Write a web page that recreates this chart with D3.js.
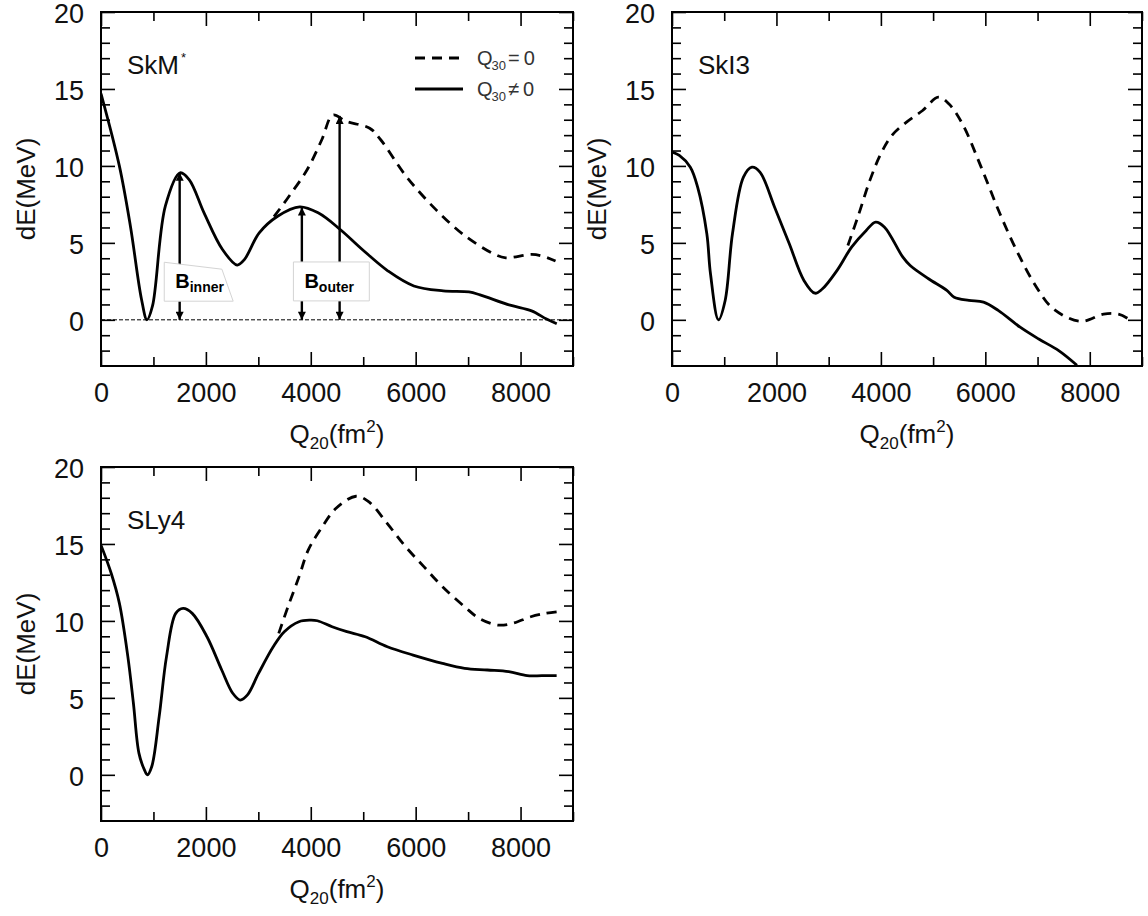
<!DOCTYPE html>
<meta charset="utf-8">
<title>dE vs Q20</title>
<style>
body { margin: 0; background: #fff; }
svg { display: block; font-family: "Liberation Sans", Arial, sans-serif; }
.tick text { font-size: 27px; fill: #111; }
</style>
<body>
<svg width="1148" height="916"></svg>
<script src="https://d3js.org/d3.v7.min.js"></script>
<script>

// axis values
var qMajor = [0, 2000, 4000, 6000, 8000];
var qMinor = [1000, 3000, 5000, 7000, 9000];
var eMajor = [0, 5, 10, 15, 20];
var eMinor = [-2, -1, 1, 2, 3, 4, 6, 7, 8, 9, 11, 12, 13, 14, 16, 17, 18, 19];

// SkM* : [Q20, dE]
var skmFree = [[0,14.7],[350,10.0],[561,6.08],[772,1.34],[877,0],[982,0.9],[1228,7.4],[1509,9.55],
  [1684,9.1],[1965,6.95],[2316,4.57],[2596,3.56],[2737,3.93],[3017,5.65],[3368,6.73],[3789,7.34],
  [4140,6.95],[4561,5.87],[4982,4.57],[5474,3.17],[5965,2.2],[6526,1.88],[7017,1.81],[7228,1.62],
  [7800,0.95],[8210,0.58],[8495,0.05],[8690,-0.25]];
var skmSym = [[3298,6.7],[3579,8.0],[3930,9.75],[4210,11.7],[4421,13.3],[4667,12.9],[5123,12.45],
  [5333,11.7],[5825,9.3],[6386,7.16],[6947,5.44],[7509,4.25],[7719,4.03],[8210,4.25],[8421,4.14],[8667,3.82]];

// SkI3
var ski3Free = [[0,10.9],[140,10.68],[351,9.92],[491,8.62],[667,5.59],[737,2.99],[890,0],[1018,1.26],
  [1158,5.59],[1368,9.27],[1530,9.92],[1684,9.6],[1965,7.32],[2246,4.94],[2526,2.56],[2737,1.73],
  [2877,2.0],[3158,3.2],[3439,4.72],[3719,5.81],[3900,6.35],[4070,6.02],[4421,4.07],[4561,3.53],
  [4912,2.67],[5263,1.91],[5404,1.47],[5684,1.26],[5965,1.15],[6246,0.61],[6667,-0.48],[7023,-1.25],
  [7405,-2.0],[7754,-2.95]];
var ski3Sym = [[3368,4.83],[3579,6.89],[3789,9.06],[4000,10.79],[4211,11.98],[4491,12.85],[4800,13.6],
  [5100,14.47],[5300,14.04],[5560,12.74],[5920,9.92],[6280,6.89],[6630,4.29],[6980,2.12],[7300,0.72],
  [7820,-0.1],[8263,0.37],[8550,0.37],[8720,0.1]];

// SLy4
var sly4Free = [[0,14.92],[196,13.08],[351,11.14],[512,7.68],[618,4.65],[723,1.41],[828,0.32],[884,0],
  [968,0.54],[1109,3.78],[1249,7.68],[1425,10.49],[1565,10.81],[1740,10.49],[2021,8.97],[2302,6.81],
  [2512,5.3],[2653,4.86],[2793,5.19],[3004,6.59],[3284,8.32],[3495,9.3],[3775,9.95],[3986,10.05],
  [4126,10.01],[4407,9.62],[4688,9.3],[5039,8.97],[5460,8.32],[5951,7.78],[6512,7.24],[6933,6.92],
  [7368,6.81],[7775,6.7],[8126,6.44],[8407,6.44],[8688,6.44]];
var sly4Sym = [[3389,9.19],[3565,10.92],[3775,12.86],[3951,14.6],[4196,16.0],[4477,17.3],[4863,18.1],
  [5109,17.73],[5460,16.32],[5811,14.81],[6161,13.51],[6512,12.22],[6933,10.92],[7214,10.16],
  [7565,9.73],[7846,9.84],[8196,10.27],[8477,10.49],[8688,10.59]];

// barrier arrows in SkM*
var arrowQ = [1500, 3830, 4550];
var arrowTop = [9.55, 7.3, 13.25];

var svg = d3.select("svg");

var defs = svg.append("defs");
defs.append("marker")
  .attr("id", "head")
  .attr("viewBox", "0 0 10 10")
  .attr("refX", 10).attr("refY", 5)
  .attr("markerUnits", "userSpaceOnUse")
  .attr("markerWidth", 11).attr("markerHeight", 8)
  .attr("orient", "auto-start-reverse")
  .append("path")
  .attr("d", "M0,0L10,5L0,10z")
  .attr("fill", "#000");

var panels = [
  {name: "SkM", sup: "*", left: 101, top: 12, w: 472, h: 354, free: skmFree, sym: skmSym, extra: true},
  {name: "SkI3", left: 672, top: 12, w: 470, h: 354, free: ski3Free, sym: ski3Sym},
  {name: "SLy4", left: 101, top: 467, w: 472, h: 354, free: sly4Free, sym: sly4Sym}
];

panels.forEach(function(p, i) {
  var x = d3.scaleLinear().domain([0, 9000]).range([p.left, p.left + p.w]);
  var y = d3.scaleLinear().domain([-3, 20]).range([p.top + p.h, p.top]);
  var g = svg.append("g");

  defs.append("clipPath").attr("id", "clip" + i)
    .append("rect")
    .attr("x", p.left).attr("y", p.top).attr("width", p.w).attr("height", p.h);

  // ticks, pointing inward on all four sides
  function ax(axis, tr, vals, size, labels) {
    var a = axis.tickValues(vals).tickSize(-size).tickPadding(17)
      .tickFormat(labels ? d3.format("d") : "");
    var sel = g.append("g").attr("transform", tr).call(a);
    sel.select(".domain").remove();
    sel.selectAll("line").attr("stroke", "#000").attr("stroke-width", 1.6);
    return sel;
  }
  ax(d3.axisBottom(x), "translate(0," + (p.top + p.h) + ")", qMajor, 14, true);
  ax(d3.axisBottom(x), "translate(0," + (p.top + p.h) + ")", qMinor, 9, false);
  ax(d3.axisTop(x), "translate(0," + p.top + ")", qMajor, 14, false);
  ax(d3.axisTop(x), "translate(0," + p.top + ")", qMinor, 9, false);
  ax(d3.axisLeft(y), "translate(" + p.left + ",0)", eMajor, 14, true)
    .selectAll("text").attr("dy", "0.38em");
  ax(d3.axisLeft(y), "translate(" + p.left + ",0)", eMinor, 9, false);
  ax(d3.axisRight(y), "translate(" + (p.left + p.w) + ",0)", eMajor, 14, false);
  ax(d3.axisRight(y), "translate(" + (p.left + p.w) + ",0)", eMinor, 9, false);

  g.append("rect")
    .attr("x", p.left).attr("y", p.top).attr("width", p.w).attr("height", p.h)
    .attr("fill", "none").attr("stroke", "#000").attr("stroke-width", 2);

  if (p.extra) {
    g.append("line")
      .attr("x1", x(0)).attr("x2", x(9000)).attr("y1", y(0)).attr("y2", y(0))
      .attr("stroke", "#000").attr("stroke-width", 1).attr("stroke-dasharray", "4,2");
  }

  var line = d3.line()
    .x(function(d) { return x(d[0]); })
    .y(function(d) { return y(d[1]); })
    .curve(d3.curveCatmullRom.alpha(0.5));

  var cg = g.append("g").attr("clip-path", "url(#clip" + i + ")");
  cg.append("path").datum(p.sym).attr("d", line)
    .attr("fill", "none").attr("stroke", "#000").attr("stroke-width", 2.8)
    .attr("stroke-dasharray", "10,7");
  cg.append("path").datum(p.free).attr("d", line)
    .attr("fill", "none").attr("stroke", "#000").attr("stroke-width", 2.8);

  // panel label
  var lab = g.append("text")
    .attr("x", p.left + 26).attr("y", p.top + 62)
    .attr("font-size", 26).attr("fill", "#111")
    .text(p.name);
  if (p.sup) lab.append("tspan").attr("dy", -12).attr("dx", 2).attr("font-size", 13).text(p.sup);

  // axis titles
  var xt = g.append("text")
    .attr("x", p.left + p.w / 2).attr("y", p.top + p.h + 77)
    .attr("text-anchor", "middle").attr("font-size", 26).attr("fill", "#111");
  xt.append("tspan").text("Q");
  xt.append("tspan").attr("font-size", 17).attr("dy", 6).text("20");
  xt.append("tspan").attr("dy", -6).text("(fm");
  xt.append("tspan").attr("font-size", 17).attr("dy", -11).text("2");
  xt.append("tspan").attr("dy", 11).text(")");

  g.append("text")
    .attr("transform", "translate(" + (p.left - 66) + "," + (p.top + p.h / 2) + ") rotate(-90)")
    .attr("text-anchor", "middle").attr("font-size", 26).attr("fill", "#111")
    .text("dE(MeV)");

  if (p.extra) {
    // legend
    var leg = [{dash: "10,7", rel: "=\u20090"}, {dash: null, rel: "\u2260\u20090"}];
    leg.forEach(function(l, k) {
      var ly = p.top + 46 + k * 31;
      g.append("line")
        .attr("x1", p.left + 314).attr("x2", p.left + 362).attr("y1", ly).attr("y2", ly)
        .attr("stroke", "#000").attr("stroke-width", 3)
        .attr("stroke-dasharray", l.dash);
      var t = g.append("text").attr("x", p.left + 376).attr("y", ly + 7)
        .attr("font-size", 20).attr("fill", "#333");
      t.append("tspan").text("Q");
      t.append("tspan").attr("font-size", 13).attr("dy", 5).attr("dx", -1).text("30");
      t.append("tspan").attr("dy", -5).attr("dx", 2).text(l.rel);
    });

    // barrier arrows
    arrowQ.forEach(function(q, k) {
      g.append("line")
        .attr("x1", x(q)).attr("x2", x(q))
        .attr("y1", y(0)).attr("y2", y(arrowTop[k]))
        .attr("stroke", "#000").attr("stroke-width", 2.4)
        .attr("marker-start", "url(#head)").attr("marker-end", "url(#head)");
    });

    // labels over arrows
    var innerBox = [[1206,3.74],[2305,3.29],[2520,1.21],[1206,1.21]];
    var outerBox = [[3669,3.76],[5116,3.76],[5116,1.23],[3669,1.23]];
    [[innerBox, "inner"], [outerBox, "outer"]].forEach(function(b) {
      g.append("polygon")
        .attr("points", b[0].map(function(d) { return x(d[0]) + "," + y(d[1]); }).join(" "))
        .attr("fill", "#fff").attr("stroke", "#d4d4d4").attr("stroke-width", 1);
      var bt = g.append("text")
        .attr("x", x(b[0][0][0]) + 11).attr("y", y(b[0][3][1]) - 13)
        .attr("font-size", 20).attr("font-weight", "bold").attr("fill", "#000");
      bt.append("tspan").text("B");
      bt.append("tspan").attr("font-size", 14).attr("dy", 4).text(b[1]);
    });
  }
});

</script>
</body>
